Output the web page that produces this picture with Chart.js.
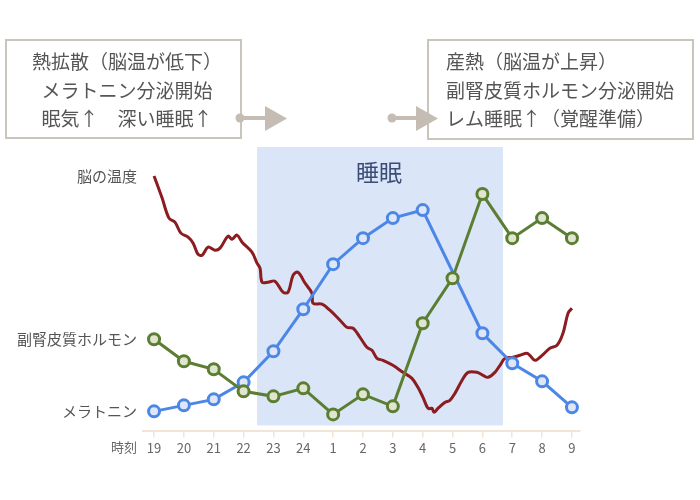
<!DOCTYPE html>
<html>
<head>
<meta charset="utf-8">
<script src="https://cdn.jsdelivr.net/npm/chart.js@4/dist/chart.umd.min.js"></script>
<style>
html,body{margin:0;padding:0;background:#fff;}
#wrap{width:700px;height:500px;position:relative;}
</style>
</head>
<body>
<div id="wrap"><canvas id="c"></canvas></div>
<script>
// Hour tick labels (index 0..14)
const hourLabels = ['19','20','21','22','23','24','1','2','3','4','5','6','7','8','9'];

// Melatonin (relative level), x = hour index; no marker at index 10 (5時)
const melatoninX = [0,1,2,3,4,5,6,7,8,9,11,12,13,14];
const melatoninY = [20,26,32,49,80,122,167,193,213,221,98,68,50,24];

// Adrenocortical hormone (relative level)
const cortisolX = [0,1,2,3,4,5,6,7,8,9,10,11,12,13,14];
const cortisolY = [92,70,62,40,35,43,17,37,25,108,153,237,193,213,193];

// Brain temperature (relative level), dense trace
const brainX = [0,0.27,0.50,0.70,0.90,1.14,1.31,1.47,1.61,1.81,2.04,2.21,2.48,2.61,2.78,2.95,3.28,3.45,3.55,3.62,3.82,4.05,4.32,4.49,4.66,4.82,5.06,5.29,5.33,5.63,5.89,6.23,6.46,6.67,6.90,7.13,7.30,7.47,7.67,8.00,8.34,8.64,8.84,9.01,9.18,9.31,9.38,9.51,9.75,9.91,10.08,10.32,10.52,10.82,11.02,11.19,11.42,11.59,11.76,12.02,12.26,12.49,12.59,12.76,13.00,13.26,13.50,13.70,13.87,14.00];
const brainY = [255,233,213,209,198,194,188,177,176,184,181,183,195,192,196,189,179,168,163,149,149,150,139,139,156,159,148,138,128,127,121,111,104,103,94,84,81,73,71,66,59,53,44,34,23,23,19,23,29,31,38,51,59,59,56,54,59,66,73,74,76,78,76,71,76,83,86,98,118,123];

// Sleep period (hour index) and label
const sleepStart = 3.45, sleepEnd = 11.69;
const sleepLabel = '睡眠';
const seriesNames = ['脳の温度','副腎皮質ホルモン','メラトニン'];
const axisTitle = '時刻';
const leftBoxLines = ['熱拡散（脳温が低下）','メラトニン分泌開始','眠気↑　深い睡眠↑'];
const rightBoxLines = ['産熱（脳温が上昇）','副腎皮質ホルモン分泌開始','レム睡眠↑（覚醒準備）'];

const FONT = '"Noto Sans CJK JP","Noto Sans",sans-serif';
const toPts = (xs, ys) => xs.map((x,i)=>({x:x, y:ys[i]}));

const decor = {
  id:'decor',
  beforeDatasetsDraw(chart){
    const {ctx, scales:{x,y}} = chart;
    ctx.save();
    ctx.fillStyle = '#dae5f7';
    const x0 = x.getPixelForValue(sleepStart), x1 = x.getPixelForValue(sleepEnd);
    const y0 = y.getPixelForValue(284), y1 = y.getPixelForValue(6);
    ctx.fillRect(x0, y0, x1-x0, y1-y0);
    ctx.fillStyle = '#3b4c77';
    ctx.font = '23px ' + FONT;
    ctx.textAlign='center'; ctx.textBaseline='middle';
    ctx.fillText(sleepLabel, x.getPixelForValue(7.54), y.getPixelForValue(259));
    ctx.restore();
  },
  afterDraw(chart){
    const {ctx, chartArea, scales:{x,y}} = chart;
    ctx.save();
    // series labels
    ctx.fillStyle = '#555';
    ctx.font = '15px ' + FONT;
    ctx.textAlign='right'; ctx.textBaseline='middle';
    const lx = chartArea.left - 6;
    ctx.fillText(seriesNames[0], lx, y.getPixelForValue(brainY[0]));
    ctx.fillText(seriesNames[1], lx, y.getPixelForValue(cortisolY[0]));
    ctx.fillText(seriesNames[2], lx, y.getPixelForValue(melatoninY[0]));
    ctx.font = '13px ' + FONT;
    ctx.fillStyle = '#666';
    ctx.fillText(axisTitle, lx, 447);
    // boxes
    ctx.strokeStyle = '#c9c4bc'; ctx.lineWidth = 2;
    ctx.strokeRect(6, 40, 235, 98);
    ctx.strokeRect(428, 40, 265, 99);
    ctx.fillStyle = '#555';
    ctx.font = '19px ' + FONT;
    ctx.textAlign = 'center';
    const ly = [62, 91, 119];
    leftBoxLines.forEach((t,i)=>ctx.fillText(t, 127, ly[i]));
    ctx.textAlign = 'left';
    rightBoxLines.forEach((t,i)=>ctx.fillText(t, 446, ly[i]));
    // arrows
    const arrow = (dx, lineEnd, hb, tip) => {
      ctx.fillStyle = '#c5bdb3'; ctx.strokeStyle = '#c5bdb3';
      ctx.lineWidth = 4;
      ctx.beginPath(); ctx.arc(dx, 118, 4.5, 0, Math.PI*2); ctx.fill();
      ctx.beginPath(); ctx.moveTo(dx, 118); ctx.lineTo(lineEnd, 118); ctx.stroke();
      ctx.beginPath(); ctx.moveTo(hb, 106); ctx.lineTo(tip, 118.5); ctx.lineTo(hb, 131); ctx.closePath(); ctx.fill();
    };
    arrow(240, 268, 265, 287);
    arrow(392, 419, 416, 438);
    ctx.restore();
  }
};

new Chart(document.getElementById('c'), {
  type:'line',
  data:{
    datasets:[
      {data: toPts(cortisolX, cortisolY), borderColor:'#5b7e33', borderWidth:3,
       pointRadius:5.5, pointBorderWidth:3, pointBackgroundColor:'#dfe5cf', pointBorderColor:'#5b7e33', tension:0},
      {data: toPts(melatoninX, melatoninY), borderColor:'#4c87e8', borderWidth:3,
       pointRadius:5.5, pointBorderWidth:3, pointBackgroundColor:'#dde7f8', pointBorderColor:'#4c87e8', tension:0},
      {data: toPts(brainX, brainY), borderColor:'#8b1c20', borderWidth:3, pointRadius:0, tension:0.35}
    ]
  },
  options:{
    responsive:true, maintainAspectRatio:false, animation:false,
    layout:{padding:{left:143, right:120, top:140, bottom:41}},
    plugins:{legend:{display:false}, tooltip:{enabled:false}},
    scales:{
      x:{type:'linear', min:-0.37, max:14.27,
         grid:{display:true, drawOnChartArea:false, drawTicks:true, tickLength:6, color:'#f3e4d8', lineWidth:1.5},
         border:{display:true, color:'#f3e4d8', width:2},
         ticks:{stepSize:1, includeBounds:false, autoSkip:false, maxRotation:0, padding:3,
                color:'#666', font:{size:13, family:FONT},
                callback:(v)=> Number.isInteger(v) && v>=0 && v<hourLabels.length ? hourLabels[v] : ''}},
      y:{display:false, min:0, max:291}
    }
  },
  plugins:[decor]
});
</script>
</body>
</html>
